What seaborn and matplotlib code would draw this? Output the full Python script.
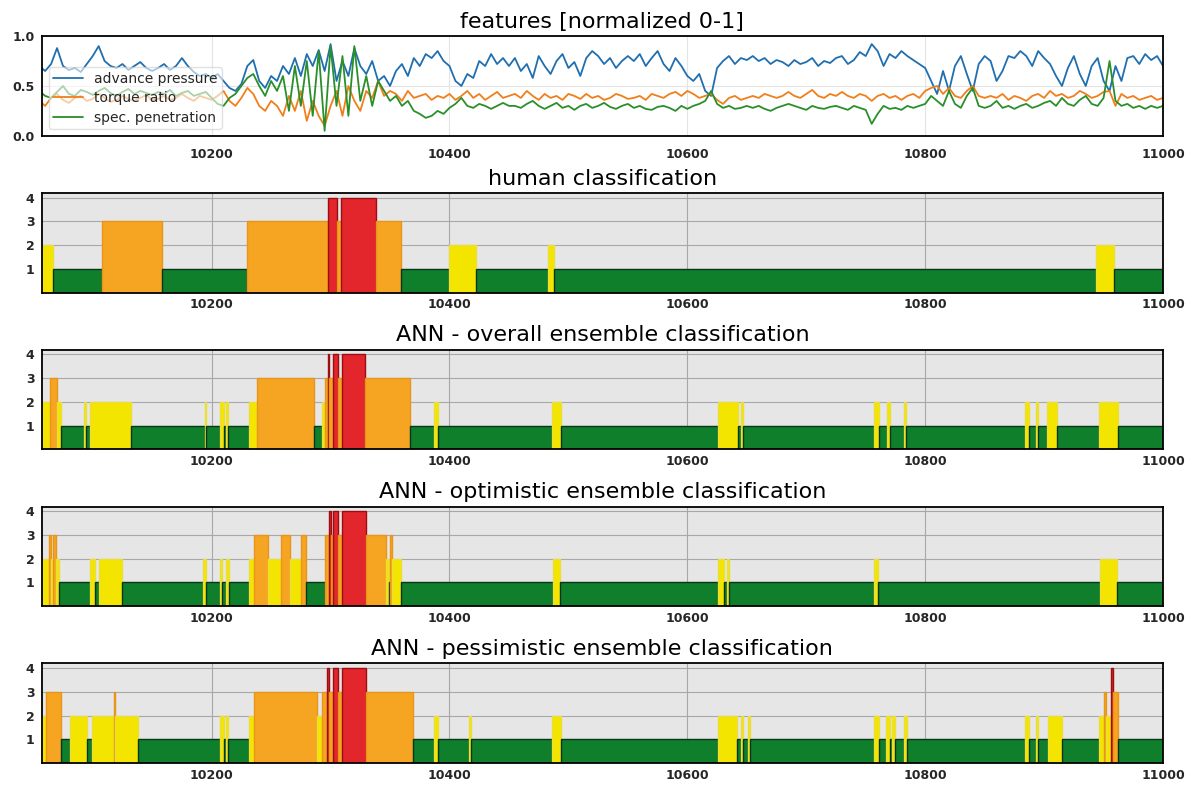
import numpy as np
import pandas as pd
import matplotlib.pyplot as plt
import seaborn as sns

# ---- feature data (sampled every 5 rings) ----
ring = np.arange(10055, 11001, 5)

advance_pressure = [
    0.70, 0.65, 0.72, 0.88, 0.70, 0.66, 0.68, 0.64, 0.72, 0.80, 0.90, 0.75, 0.70, 0.68, 0.72, 0.66, 0.70, 0.74, 0.68, 0.65,
    0.68, 0.72, 0.66, 0.70, 0.78, 0.70, 0.64, 0.60, 0.62, 0.58, 0.62, 0.55, 0.48, 0.45, 0.52, 0.70, 0.76, 0.55, 0.48, 0.60,
    0.55, 0.70, 0.62, 0.78, 0.60, 0.82, 0.70, 0.86, 0.65, 0.92, 0.55, 0.75, 0.60, 0.88, 0.70, 0.62, 0.75, 0.55, 0.60, 0.50,
    0.65, 0.72, 0.60, 0.78, 0.70, 0.82, 0.78, 0.85, 0.75, 0.70, 0.55, 0.50, 0.62, 0.58, 0.75, 0.70, 0.82, 0.72, 0.78, 0.70,
    0.78, 0.65, 0.72, 0.58, 0.80, 0.70, 0.62, 0.75, 0.82, 0.68, 0.74, 0.60, 0.78, 0.85, 0.80, 0.72, 0.78, 0.68, 0.75, 0.80,
    0.75, 0.82, 0.70, 0.78, 0.85, 0.72, 0.65, 0.78, 0.70, 0.60, 0.55, 0.62, 0.45, 0.40, 0.68, 0.75, 0.80, 0.72, 0.78, 0.76,
    0.80, 0.75, 0.78, 0.72, 0.76, 0.74, 0.70, 0.76, 0.72, 0.74, 0.78, 0.70, 0.75, 0.73, 0.78, 0.80, 0.72, 0.76, 0.84, 0.80,
    0.92, 0.85, 0.70, 0.82, 0.78, 0.85, 0.80, 0.76, 0.72, 0.68, 0.55, 0.42, 0.65, 0.45, 0.70, 0.80, 0.62, 0.45, 0.72, 0.80,
    0.75, 0.55, 0.65, 0.80, 0.78, 0.85, 0.80, 0.70, 0.85, 0.78, 0.72, 0.60, 0.50, 0.68, 0.80, 0.62, 0.50, 0.70, 0.78, 0.55,
    0.45, 0.70, 0.55, 0.78, 0.80, 0.72, 0.82, 0.76, 0.80, 0.70,
]
torque_ratio = [
    0.35, 0.30, 0.38, 0.42, 0.36, 0.33, 0.38, 0.40, 0.35, 0.37, 0.42, 0.38, 0.34, 0.36, 0.40, 0.37, 0.35, 0.38, 0.41, 0.36,
    0.37, 0.40, 0.36, 0.38, 0.42, 0.38, 0.35, 0.40, 0.38, 0.36, 0.40, 0.45, 0.35, 0.30, 0.38, 0.48, 0.42, 0.30, 0.25, 0.35,
    0.30, 0.20, 0.40, 0.25, 0.45, 0.15, 0.35, 0.20, 0.10, 0.30, 0.45, 0.20, 0.50, 0.35, 0.25, 0.45, 0.38, 0.55, 0.40, 0.45,
    0.42, 0.35, 0.45, 0.38, 0.40, 0.42, 0.36, 0.40, 0.38, 0.42, 0.36, 0.40, 0.45, 0.38, 0.42, 0.36, 0.40, 0.44, 0.38, 0.40,
    0.42, 0.38, 0.45, 0.40, 0.36, 0.42, 0.38, 0.40, 0.36, 0.42, 0.40, 0.37, 0.42, 0.38, 0.40, 0.36, 0.38, 0.42, 0.40, 0.37,
    0.38, 0.40, 0.36, 0.42, 0.40, 0.38, 0.42, 0.44, 0.40, 0.45, 0.42, 0.38, 0.40, 0.42, 0.36, 0.32, 0.38, 0.40, 0.36, 0.38,
    0.40, 0.38, 0.42, 0.40, 0.38, 0.40, 0.44, 0.40, 0.38, 0.42, 0.46, 0.40, 0.38, 0.42, 0.40, 0.44, 0.40, 0.38, 0.42, 0.40,
    0.35, 0.40, 0.42, 0.38, 0.40, 0.36, 0.40, 0.42, 0.38, 0.45, 0.48, 0.50, 0.42, 0.48, 0.40, 0.38, 0.45, 0.50, 0.40, 0.38,
    0.40, 0.38, 0.42, 0.36, 0.40, 0.38, 0.35, 0.40, 0.42, 0.38, 0.45, 0.40, 0.42, 0.38, 0.40, 0.45, 0.42, 0.38, 0.40, 0.44,
    0.45, 0.30, 0.42, 0.38, 0.40, 0.36, 0.38, 0.40, 0.36, 0.38,
]
spec_penetration = [
    0.45, 0.40, 0.38, 0.44, 0.50, 0.42, 0.40, 0.46, 0.44, 0.41, 0.45, 0.48, 0.43, 0.40, 0.44, 0.47, 0.42, 0.45, 0.43, 0.41,
    0.44, 0.42, 0.46, 0.40, 0.43, 0.45, 0.40, 0.42, 0.44, 0.38, 0.32, 0.30, 0.38, 0.42, 0.50, 0.58, 0.62, 0.50, 0.40, 0.55,
    0.45, 0.60, 0.25, 0.70, 0.30, 0.75, 0.20, 0.85, 0.05, 0.90, 0.30, 0.80, 0.20, 0.90, 0.35, 0.60, 0.30, 0.55, 0.45, 0.35,
    0.40, 0.30, 0.35, 0.25, 0.22, 0.18, 0.20, 0.25, 0.22, 0.28, 0.32, 0.38, 0.30, 0.28, 0.32, 0.30, 0.27, 0.30, 0.33, 0.30,
    0.30, 0.28, 0.32, 0.35, 0.30, 0.27, 0.30, 0.33, 0.28, 0.30, 0.26, 0.30, 0.32, 0.28, 0.30, 0.33, 0.29, 0.27, 0.30, 0.32,
    0.28, 0.30, 0.27, 0.26, 0.29, 0.30, 0.28, 0.25, 0.30, 0.27, 0.30, 0.32, 0.35, 0.45, 0.32, 0.28, 0.30, 0.27, 0.28, 0.30,
    0.28, 0.30, 0.27, 0.25, 0.28, 0.30, 0.32, 0.30, 0.28, 0.26, 0.30, 0.28, 0.27, 0.29, 0.30, 0.28, 0.26, 0.30, 0.28, 0.26,
    0.12, 0.22, 0.30, 0.27, 0.28, 0.26, 0.30, 0.28, 0.30, 0.32, 0.40, 0.35, 0.30, 0.45, 0.32, 0.28, 0.40, 0.48, 0.30, 0.28,
    0.30, 0.35, 0.28, 0.30, 0.27, 0.30, 0.32, 0.28, 0.30, 0.33, 0.35, 0.30, 0.38, 0.32, 0.30, 0.36, 0.40, 0.32, 0.30, 0.38,
    0.75, 0.35, 0.30, 0.32, 0.28, 0.30, 0.27, 0.30, 0.28, 0.30,
]

# ---- classifications: segment boundaries and class of each segment ----
human_breaks = [10057, 10067, 10108, 10158, 10230, 10298, 10305, 10309, 10338, 10359, 10400, 10422,
                10483, 10488, 10944, 10959, 11000]
human_cls = [2, 1, 3, 1, 3, 4, 3, 4, 3, 1, 2, 1, 2, 1, 2, 1]

overall_breaks = [10057, 10064, 10070, 10073, 10093, 10094, 10098, 10132, 10194, 10195, 10207, 10210,
                  10212, 10214, 10231, 10238, 10286, 10293, 10295, 10298, 10299, 10302, 10306, 10310,
                  10329, 10367, 10387, 10390, 10486, 10494, 10626, 10643, 10645, 10647, 10757, 10761,
                  10768, 10770, 10782, 10784, 10884, 10887, 10893, 10895, 10902, 10911, 10946, 10962, 11000]
overall_cls = [2, 3, 2, 1, 2, 1, 2, 1, 2, 1, 2, 1, 2, 1, 2, 3, 1, 2, 3, 4, 3, 4, 3, 4, 3, 1, 2, 1, 2, 1,
               2, 1, 2, 1, 2, 1, 2, 1, 2, 1, 2, 1, 2, 1, 2, 1, 2, 1]

optimistic_breaks = [10057, 10063, 10065, 10067, 10069, 10072, 10098, 10102, 10105, 10125, 10193, 10195,
                     10207, 10209, 10212, 10215, 10231, 10236, 10247, 10258, 10266, 10275, 10279, 10295,
                     10299, 10300, 10302, 10306, 10310, 10330, 10347, 10349, 10350, 10352, 10359, 10487,
                     10493, 10626, 10631, 10633, 10635, 10757, 10760, 10947, 10961, 11000]
optimistic_cls = [2, 3, 2, 3, 2, 1, 2, 1, 2, 1, 2, 1, 2, 1, 2, 1, 2, 3, 2, 3, 2, 3, 1, 3, 4, 3, 4, 3, 4, 3,
                  2, 1, 3, 2, 1, 2, 1, 2, 1, 2, 1, 2, 1, 2, 1]

pessimistic_breaks = [10057, 10061, 10073, 10081, 10095, 10099, 10118, 10119, 10138, 10207, 10210, 10212,
                      10214, 10231, 10236, 10289, 10293, 10297, 10299, 10302, 10306, 10310, 10330, 10369,
                      10387, 10390, 10416, 10418, 10486, 10494, 10626, 10642, 10645, 10647, 10651, 10653,
                      10757, 10761, 10767, 10770, 10772, 10775, 10782, 10785, 10884, 10887, 10893, 10895,
                      10903, 10915, 10946, 10950, 10952, 10956, 10958, 10962, 11000]
pessimistic_cls = [2, 3, 1, 2, 1, 2, 3, 2, 1, 2, 1, 2, 1, 2, 3, 2, 3, 4, 3, 4, 3, 4, 3, 1, 2, 1, 2, 1, 2, 1,
                   2, 1, 2, 1, 2, 1, 2, 1, 2, 1, 2, 1, 2, 1, 2, 1, 2, 1, 2, 1, 2, 3, 2, 4, 3, 1]

panel_titles = ['human classification', 'ANN - overall ensemble classification',
                'ANN - optimistic ensemble classification', 'ANN - pessimistic ensemble classification']
x_ticks = [10200, 10400, 10600, 10800, 11000]

# class colours (face / edge)
face = {1: '#0f7f2c', 2: '#f4e500', 3: '#f5a522', 4: '#e3262b'}
edge = {1: '#07361a', 2: '#eadf3a', 3: '#e8951a', 4: '#9c0e12'}

sns.set_style('white')
fig, axes = plt.subplots(5, 1, figsize=(11.88, 7.85), dpi=100)
fig.subplots_adjust(left=0.035, right=0.979, top=0.954, bottom=0.028, hspace=0.573)

# features panel
df = pd.DataFrame({'ring': np.tile(ring, 3),
                   'value': advance_pressure + torque_ratio + spec_penetration,
                   'feature': ['advance pressure'] * len(ring) + ['torque ratio'] * len(ring)
                              + ['spec. penetration'] * len(ring)})
ax = axes[0]
sns.lineplot(data=df, x='ring', y='value', hue='feature',
             palette=['#1f6fb0', '#f07f1a', '#2a8f2a'], linewidth=1.3, ax=ax)
handles, labels = ax.get_legend_handles_labels()
ax.legend(handles, labels, loc='lower left', fontsize=10, framealpha=0.6,
          handlelength=2.2, borderpad=0.3, labelspacing=0.4)
ax.set_ylim(0, 1)
ax.set_yticks([0.0, 0.5, 1.0])
ax.set_title('features [normalized 0-1]', fontsize=16, color='black')
ax.grid(True, color='#e4e4e4', linewidth=0.8)
ax.set_facecolor('white')
ax.tick_params(axis='x', pad=9)

# classification panels
class_data = [(human_breaks, human_cls), (overall_breaks, overall_cls),
              (optimistic_breaks, optimistic_cls), (pessimistic_breaks, pessimistic_cls)]
for ax, (brk, cls), title in zip(axes[1:], class_data, panel_titles):
    brk = np.array(brk)
    ax.set_facecolor('#e6e6e6')
    ax.bar(brk[:-1], cls, width=np.diff(brk), align='edge',
           color=[face[c] for c in cls], edgecolor=[edge[c] for c in cls], linewidth=1.0, zorder=2)
    ax.set_ylim(0, 4.2)
    ax.set_yticks([1, 2, 3, 4])
    ax.grid(True, color='#a8a8a8', linewidth=0.8, zorder=0)
    ax.set_axisbelow(True)
    ax.set_title(title, fontsize=16, color='black')
    ax.tick_params(axis='x', pad=4)

for ax in axes:
    ax.set_xlim(10057, 11000)
    ax.set_xticks(x_ticks)
    ax.set_xlabel('')
    ax.set_ylabel('')
    ax.tick_params(axis='both', length=0, labelsize=9)
    ax.tick_params(axis='y', pad=5)
    for lab in ax.get_xticklabels() + ax.get_yticklabels():
        lab.set_fontweight('bold')
    for s in ax.spines.values():
        s.set_visible(True)
        s.set_color('black')
        s.set_linewidth(1.3)

plt.savefig('out.png', dpi=100)
